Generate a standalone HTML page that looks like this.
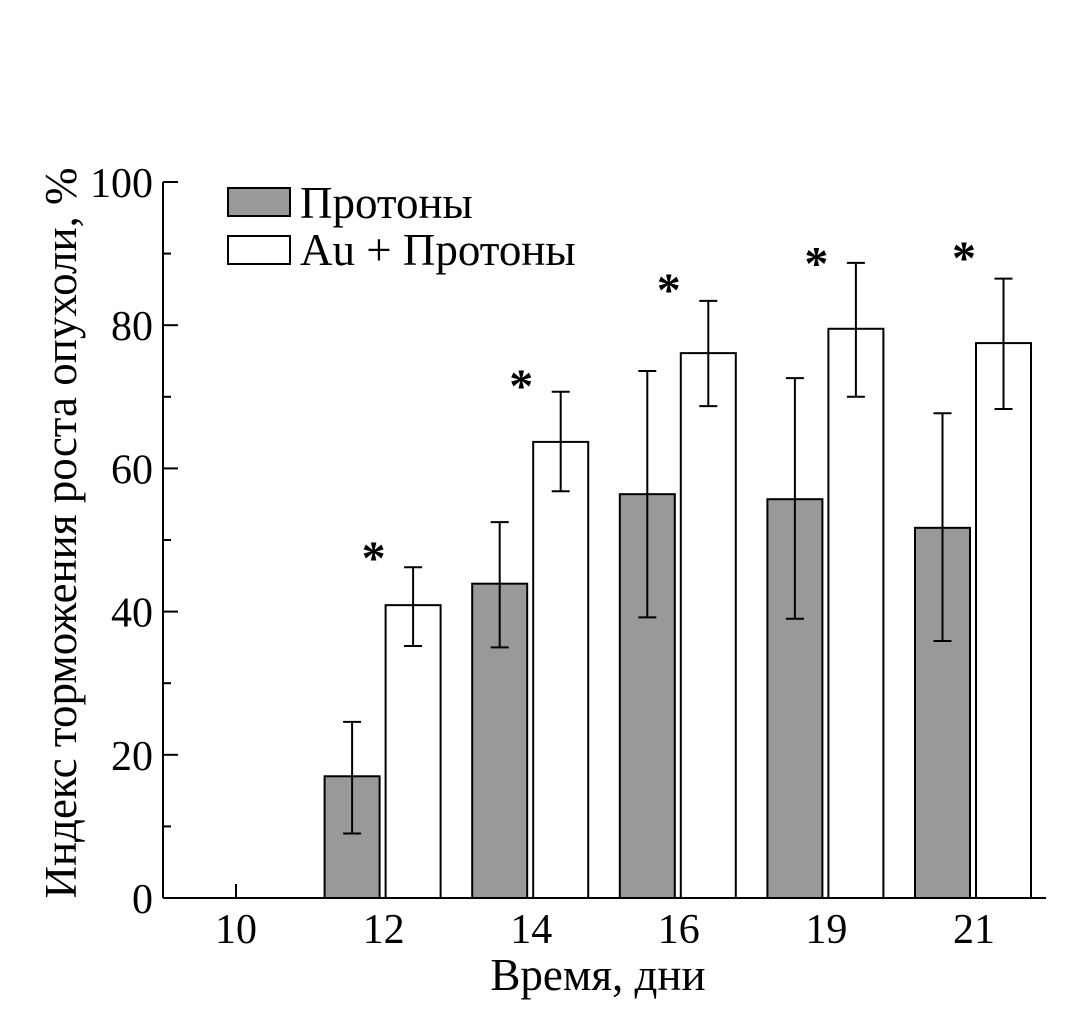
<!DOCTYPE html>
<html><head><meta charset="utf-8"><style>
html,body{margin:0;padding:0;background:#fff;}
svg{display:block;font-family:"Liberation Serif","DejaVu Serif",serif;}
</style></head><body>
<svg id="chart" width="1075" height="1033" viewBox="0 0 1075 1033" xmlns="http://www.w3.org/2000/svg">
<g id="axes"></g>
<g id="bars"></g>
<g id="legend">
<rect x="228" y="188" width="62" height="28" fill="#999" stroke="#000" stroke-width="2"/>
<text x="300" y="218" font-size="45">Протоны</text>
<rect x="228" y="236" width="62" height="28" fill="#fff" stroke="#000" stroke-width="2"/>
<text x="300" y="265" font-size="45">Au + Протоны</text>
</g>
<text transform="translate(76,533) rotate(-90)" text-anchor="middle" font-size="45">Индекс торможения роста опухоли, %</text>
<text x="598" y="990" text-anchor="middle" font-size="45">Время, дни</text>
</svg>
<script>
const categories = ["10","12","14","16","19","21"];
const protons = [null,17,43.9,56.4,55.7,51.7];
const protonsErrHi = [null,24.6,52.5,73.6,72.6,67.7];
const protonsErrLo = [null,9,35,39.2,39,35.9];
const auProtons = [null,40.9,63.7,76.1,79.5,77.5];
const auErrHi = [null,46.2,70.7,83.4,88.7,86.5];
const auErrLo = [null,35.2,56.8,68.7,70,68.3];
const starValues = [null,48.6,72.6,86,89.7,90.5];
const yTicks = [0,20,40,60,80,100];
const yMinor = [10,30,50,70,90];

const NS="http://www.w3.org/2000/svg";
const x0=163,x1=1046,yBase=898,yTop=182;
const yS=v=>yBase-(v/100)*(yBase-yTop);
const xS=i=>236+i*147.6;
function mk(tag,attrs,parent){const e=document.createElementNS(NS,tag);for(const k in attrs)e.setAttribute(k,attrs[k]);parent.appendChild(e);return e;}
const axes=document.getElementById('axes'),bars=document.getElementById('bars');
let e=mk('line',{x1:x0,y1:yTop,x2:x0,y2:yBase,stroke:'#000','stroke-width':2},axes);


e=mk('line',{x1:x0,y1:yBase,x2:x1,y2:yBase,stroke:'#000','stroke-width':2},axes);


yTicks.forEach(v=>{
  const t=mk('line',{x1:x0,y1:yS(v),x2:x0+15,y2:yS(v),stroke:'#000','stroke-width':2},axes);
  
  
  const l=mk('text',{x:x0-10,y:yS(v)+15,'text-anchor':'end','font-size':42},axes);
  l.textContent=v;
  
  
});
yMinor.forEach(v=>{
  const t=mk('line',{x1:x0,y1:yS(v),x2:x0+8,y2:yS(v),stroke:'#000','stroke-width':2},axes);
  
  
});
categories.forEach((c,i)=>{
  const cx=xS(i);
  if(protons[i]==null){
    const t=mk('line',{x1:cx,y1:yBase,x2:cx,y2:yBase-14,stroke:'#000','stroke-width':2},axes);
    
    
  }
  const l=mk('text',{x:cx,y:yBase+45,'text-anchor':'middle','font-size':42},axes);
  l.textContent=c;
  
  
  function bar(v,hi,lo,left,fill,name){
    if(v==null)return;
    const r=mk('rect',{x:left,y:yS(v),width:55,height:yBase-yS(v),fill:fill,stroke:'#000','stroke-width':2},bars);
    
    
    const mx=left+27.5;
    const g=mk('g',{stroke:'#000','stroke-width':2},bars);
    
    
    mk('line',{x1:mx,y1:yS(hi),x2:mx,y2:yS(lo)},g);
    mk('line',{x1:mx-9,y1:yS(hi),x2:mx+9,y2:yS(hi)},g);
    mk('line',{x1:mx-9,y1:yS(lo),x2:mx+9,y2:yS(lo)},g);
  }
  bar(protons[i],protonsErrHi[i],protonsErrLo[i],cx-59,'#999','bar-protons-'+c);
  bar(auProtons[i],auErrHi[i],auErrLo[i],cx+2,'#fff','bar-au-protons-'+c);
  if(starValues[i]!=null){
    const s=mk('text',{x:cx-10,y:yS(starValues[i])+24,'text-anchor':'middle','font-size':48,'font-weight':'bold'},bars);
    s.textContent='*';
    
    
  }
});
</script>
</body></html>
